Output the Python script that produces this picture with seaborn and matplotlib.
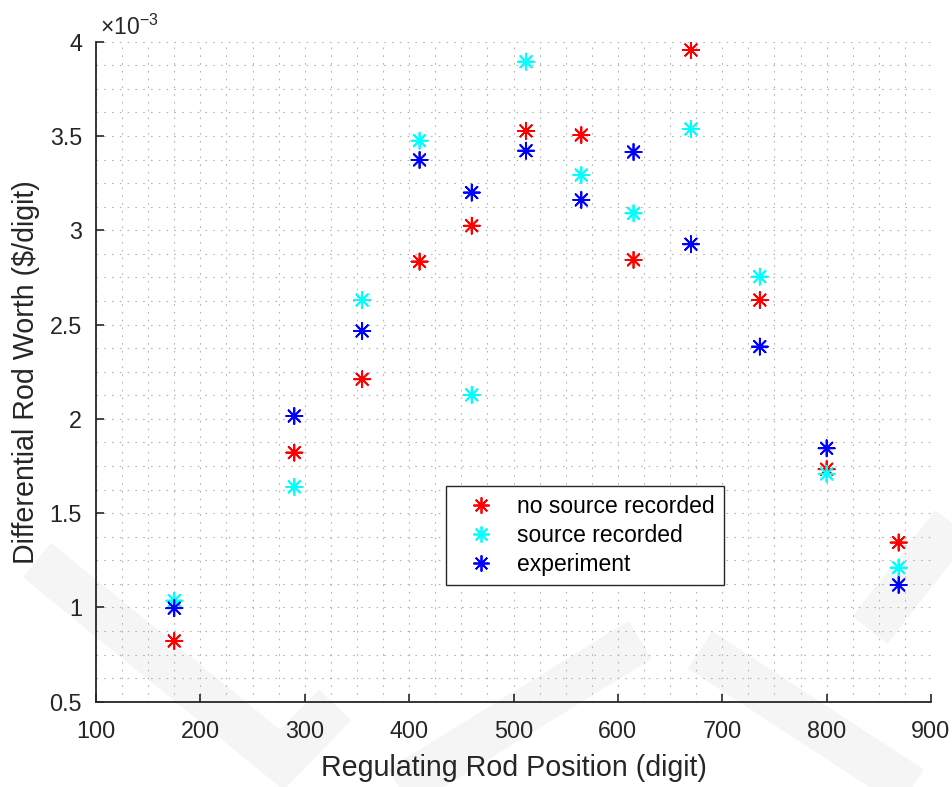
import numpy as np
import pandas as pd
import matplotlib
matplotlib.use("Agg")
import matplotlib.pyplot as plt
import seaborn as sns
from matplotlib.ticker import MultipleLocator, AutoMinorLocator, FuncFormatter
from matplotlib.lines import Line2D

# data, worth in $/digit
positions = [175, 290, 355, 410, 460, 512, 565, 615, 670, 736, 800, 869]
no_source = [0.822e-3, 1.821e-3, 2.210e-3, 2.834e-3, 3.024e-3, 3.527e-3,
             3.505e-3, 2.843e-3, 3.956e-3, 2.630e-3, 1.733e-3, 1.344e-3]
source = [1.036e-3, 1.639e-3, 2.630e-3, 3.475e-3, 2.127e-3, 3.894e-3,
          3.293e-3, 3.090e-3, 3.537e-3, 2.754e-3, 1.708e-3, 1.211e-3]
experiment = [0.996e-3, 2.015e-3, 2.466e-3, 3.373e-3, 3.200e-3, 3.422e-3,
              3.161e-3, 3.415e-3, 2.926e-3, 2.383e-3, 1.844e-3, 1.119e-3]
series_names = ["no source recorded", "source recorded", "experiment"]
series_colors = ["#ff0000", "#00ffff", "#0000ff"]

df = pd.concat([
    pd.DataFrame({"pos": positions, "worth": vals, "series": name})
    for name, vals in zip(series_names, [no_source, source, experiment])
], ignore_index=True)

sns.set_theme(style="white")
plt.rcParams["font.family"] = ["Liberation Sans", "DejaVu Sans"]
plt.rcParams["mathtext.fontset"] = "custom"
plt.rcParams["mathtext.rm"] = "Liberation Sans"
plt.rcParams["mathtext.it"] = "Liberation Sans:italic"

txt = "#262626"
fig = plt.figure(figsize=(9.52, 7.87), dpi=100)
fig.patch.set_facecolor("white")

# faint background watermark (pixel coords, origin top-left)
def px(x, y):
    return x / 952, 1 - y / 787

wm = [
    [(37, 560), (282, 760), (335, 705)],
    [(380, 800), (640, 640)],
    [(700, 650), (930, 800)],
    [(960, 515), (870, 630)],
]
for seg in wm:
    xs, ys = zip(*[px(*p) for p in seg])
    fig.add_artist(Line2D(xs, ys, transform=fig.transFigure, color="#f5f5f5",
                          linewidth=32, solid_capstyle="butt",
                          solid_joinstyle="miter", zorder=0))

ax = fig.add_axes([96 / 952, 1 - 701.7 / 787, 835 / 952, 660 / 787])
ax.set_facecolor("none")

sns.scatterplot(data=df, x="pos", y="worth", hue="series",
                hue_order=series_names, palette=series_colors,
                marker=(8, 2, 0), s=135, linewidths=1.3, ax=ax, zorder=3)

ax.set_xlim(100, 900)
ax.set_ylim(0.5e-3, 4e-3)
ax.xaxis.set_major_locator(MultipleLocator(100))
ax.yaxis.set_major_locator(MultipleLocator(0.5e-3))
ax.xaxis.set_minor_locator(AutoMinorLocator(4))
ax.yaxis.set_minor_locator(AutoMinorLocator(4))
ax.yaxis.set_major_formatter(FuncFormatter(lambda v, _: f"{v * 1e3:g}"))

ax.grid(True, which="both", color="#b4b4b4", linestyle=(0, (1.5, 5.5)),
        linewidth=0.8)
ax.set_axisbelow(True)

for side in ["top", "right"]:
    ax.spines[side].set_visible(False)
for side in ["left", "bottom"]:
    ax.spines[side].set_color(txt)
    ax.spines[side].set_linewidth(1.3)

ax.tick_params(which="major", direction="in", length=6, width=1.2,
               colors=txt, labelsize=16.8, left=True, bottom=True)
ax.tick_params(axis="x", which="major", pad=13)
ax.tick_params(axis="y", which="major", pad=10)
ax.tick_params(which="minor", length=0)

ax.set_xlabel("Regulating Rod Position (digit)", fontsize=20.6, color=txt,
              labelpad=8)
ax.set_ylabel("Differential Rod Worth ($/digit)", fontsize=20.6, color=txt,
              labelpad=7)

ax.text(0.005, 1.010, r"$\times10^{-3}$", transform=ax.transAxes,
        fontsize=16.5, color=txt, ha="left", va="baseline")

sns.move_legend(ax, loc="upper left", bbox_to_anchor=(0.419, 0.3268),
                title=None, frameon=True, fontsize=16.5, borderaxespad=0,
                borderpad=0.4, handlelength=2.3, handletextpad=0.4,
                labelspacing=0.25, fancybox=False, framealpha=1,
                edgecolor=txt)
leg = ax.get_legend()
leg.get_frame().set_linewidth(1.0)
for t in leg.get_texts():
    t.set_color("black")

fig.savefig("out.png", dpi=100, facecolor="white")
